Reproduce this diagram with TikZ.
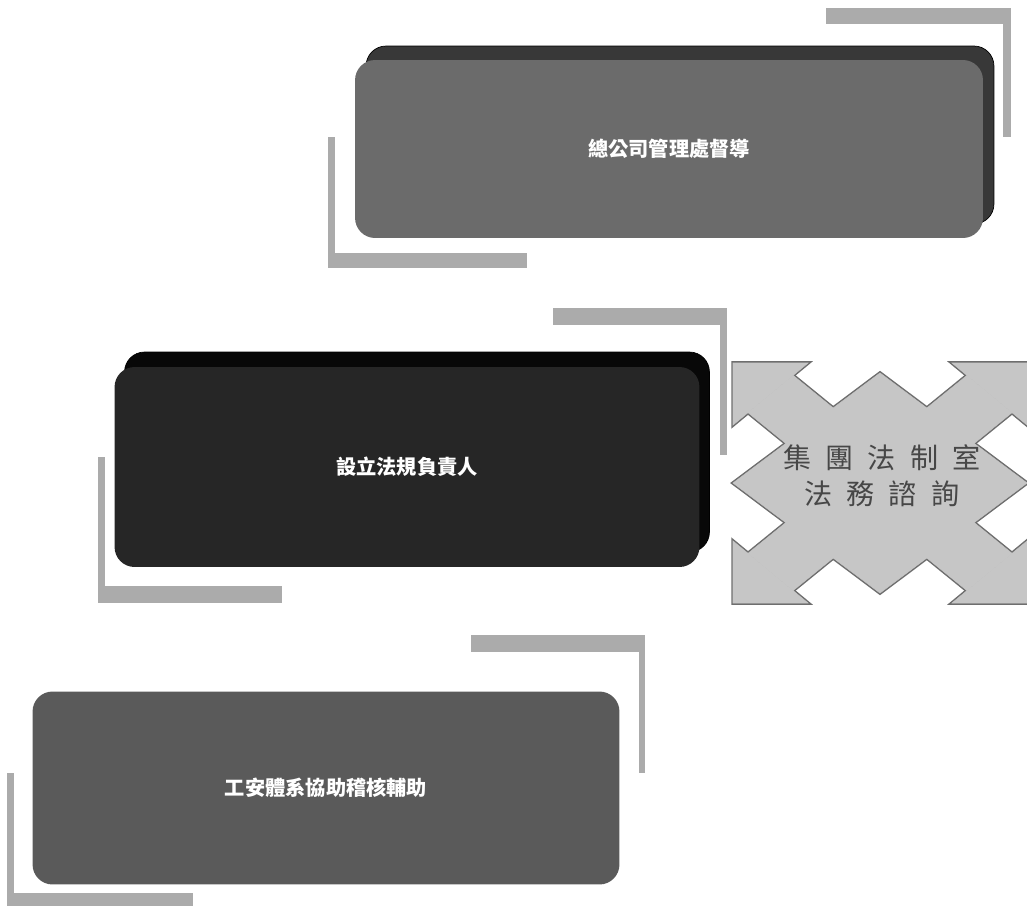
\documentclass[tikz,border=0pt]{standalone}
\usepackage{fontspec}
\newfontfamily\cjk{Noto Sans CJK TC}
\usetikzlibrary{calc,shadows}
\definecolor{Slate}{HTML}{6B6B6B}
\definecolor{SlateRim}{HTML}{383838}
\definecolor{Ink}{HTML}{262626}
\definecolor{InkRim}{HTML}{080808}
\definecolor{Ash}{HTML}{5A5A5A}
\definecolor{Bar}{HTML}{ABABAB}
\definecolor{CrossFill}{HTML}{C6C6C6}
\definecolor{CrossEdge}{HTML}{6E6E6E}
\definecolor{CrossText}{HTML}{474747}
\tikzset{
  panel/.style={rounded corners=0.4cm, inner sep=0pt, text=white,
    font=\cjk\bfseries\fontsize{11.5}{13}\selectfont},
}
% the four-way arrow, as separate pieces round the coordinate (hub)
\newcommand{\xpieces}[1]{%
  \path[#1] ($(hub)+(-147,0)$) -- ($(hub)+(0,-110)$) -- ($(hub)+(147,0)$) -- ($(hub)+(0,110)$) -- cycle;
  \foreach \sx/\sy in {-1/-1,1/-1,-1/1,1/1} {
    \path[#1] ($(hub)+({\sx*147},{\sy*120})$) -- ($(hub)+({\sx*72},{\sy*120})$) -- ($(hub)+({\sx*147},{\sy*58})$) -- cycle;
    \path[#1] ($(hub)+({\sx*87},{\sy*107.6})$) -- ($(hub)+({\sx*132},{\sy*70.4})$)
      -- ($(hub)+({\sx*22.5},{-18.6*\sy})$) -- ($(hub)+({-22.5*\sx},{\sy*18.6})$) -- cycle;
  }
}

\begin{document}
\begin{tikzpicture}[x=0.02cm,y=-0.02cm]
  \useasboundingbox (0,0) rectangle (1027,906);
  % corner brackets
  \foreach \xa/\ya/\xb/\yb in {826/8/1011/24, 1003/8/1011/137, 328/137/335/268, 328/253/527/268,
                               553/308/727/325, 720/308/727/455, 98/457/105/603, 98/586/282/603,
                               471/635/645/652, 639/635/645/773, 7/773/14/906, 7/893/193/906} {
    \fill[Bar] (\xa,\ya) rectangle (\xb,\yb);
  }
  % panels
  \node[panel, fill=Slate, minimum width=12.56cm, minimum height=3.56cm,
        copy shadow={shadow xshift=0.22cm, shadow yshift=0.28cm, fill=SlateRim}] (hq) at (669,149) {總公司管理處督導};
  \node[panel, fill=Ink, minimum width=11.7cm, minimum height=4cm,
        copy shadow={shadow xshift=0.2cm, shadow yshift=0.3cm, fill=InkRim}] (lead) at (407,467) {設立法規負責人};
  \node[panel, fill=Ash, minimum width=11.74cm, minimum height=3.86cm] (audit) at (326,788) {工安體系協助稽核輔助};
  % legal office cross
  \coordinate (hub) at (880,483);
  \xpieces{draw=CrossEdge, line width=2pt, fill=CrossFill}
  \xpieces{fill=CrossFill, draw=CrossFill, line width=0.3pt}
  \node[font=\cjk\fontsize{16}{20.5}\selectfont, text=CrossText, align=center] (legal) at (882,476)
    {集\kern.28cm 團\kern.28cm 法\kern.28cm 制\kern.28cm 室\\法\kern.28cm 務\kern.28cm 諮\kern.28cm 詢};
\end{tikzpicture}
\end{document}
